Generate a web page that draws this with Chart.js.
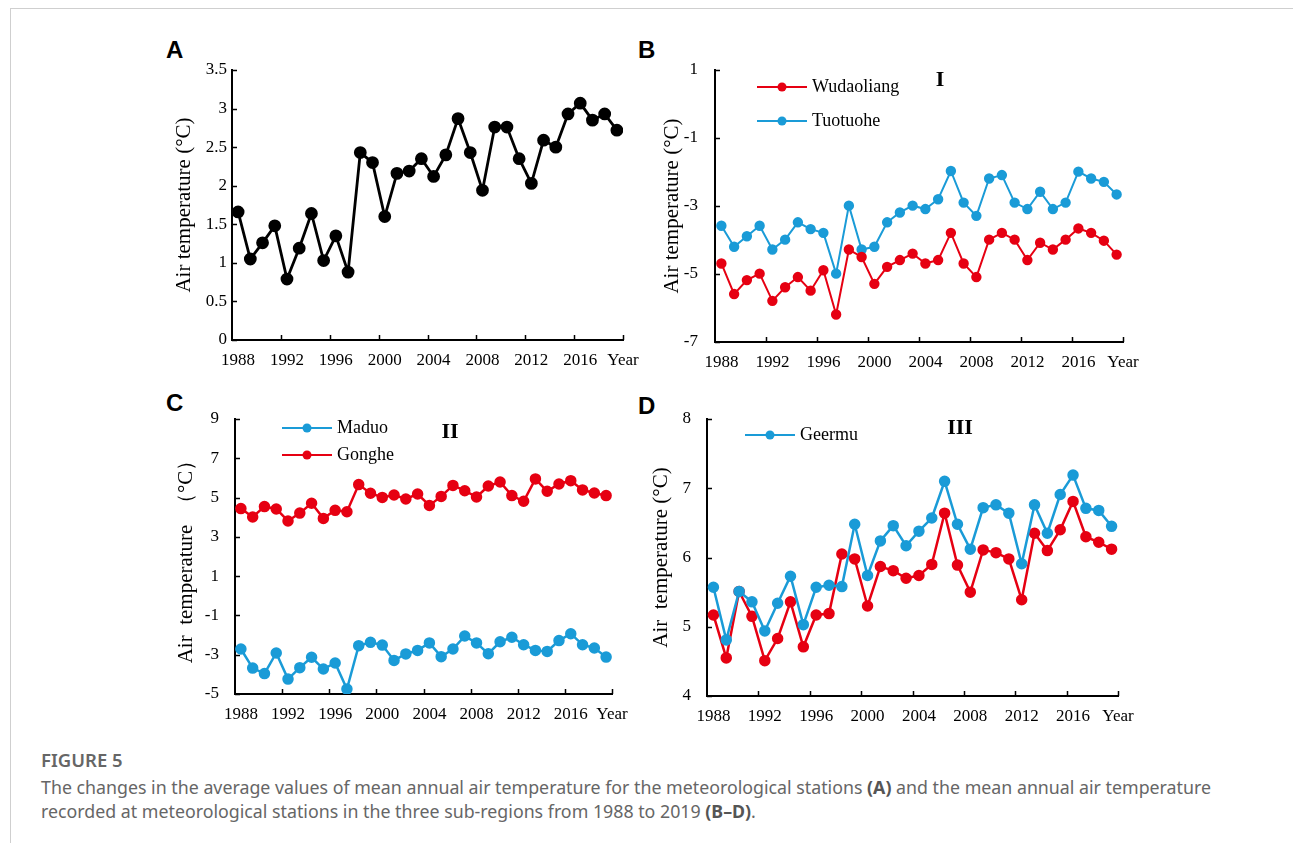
<!DOCTYPE html>
<html>
<head>
<meta charset="utf-8">
<script src="https://cdn.jsdelivr.net/npm/chart.js@4.4.1/dist/chart.umd.min.js"></script>
<style>
body{margin:0;background:#fff;width:1293px;height:843px;overflow:hidden;position:relative;}
.frame{position:absolute;left:10px;top:8px;right:0;bottom:0;border-left:1px solid #cfcfcf;border-top:1px solid #cfcfcf;}
.box{position:absolute;}
.letter{position:absolute;font:bold 24px 'Liberation Sans',Arial,sans-serif;line-height:24px;color:#000;}
.region{position:absolute;font:bold 22px 'Liberation Serif','Times New Roman',serif;line-height:22px;transform:translate(-50%,-50%);color:#000;}
.cap-title{position:absolute;left:41px;top:749px;font:600 18.5px 'Noto Sans',sans-serif;line-height:22px;color:#666;}
.cap-text{position:absolute;left:41px;top:775px;font:17.8px 'Noto Sans',sans-serif;line-height:24px;color:#666;white-space:nowrap;}
.cap-text b{color:#555;}
</style>
</head>
<body>
<div class="frame"></div>

<div class="letter" style="left:166px;top:38px">A</div>
<div class="letter" style="left:638px;top:38px">B</div>
<div class="letter" style="left:166px;top:391px">C</div>
<div class="letter" style="left:638px;top:394px">D</div>

<div class="box" style="left:168px;top:50px;width:480px;height:325px"><canvas id="chartA"></canvas></div>
<div class="box" style="left:656px;top:50px;width:492px;height:327px"><canvas id="chartB"></canvas></div>
<div class="box" style="left:170px;top:399px;width:467px;height:330px"><canvas id="chartC"></canvas></div>
<div class="box" style="left:645px;top:399px;width:498px;height:332px"><canvas id="chartD"></canvas></div>

<div class="region" style="left:940px;top:79px">I</div>
<div class="region" style="left:450px;top:431px">II</div>
<div class="region" style="left:960px;top:427px">III</div>

<div class="cap-title">FIGURE 5</div>
<div class="cap-text">The changes in the average values of mean annual air temperature for the meteorological stations <b>(A)</b> and the mean annual air temperature<br>recorded at meteorological stations in the three sub-regions from 1988 to 2019 <b>(B–D)</b>.</div>

<script>
// data
const years = [1988,1989,1990,1991,1992,1993,1994,1995,1996,1997,1998,1999,2000,2001,2002,2003,
  2004,2005,2006,2007,2008,2009,2010,2011,2012,2013,2014,2015,2016,2017,2018,2019];
const xLabelYears = [1988,1992,1996,2000,2004,2008,2012,2016];
const xTickMarks = [1991.5,1995.5,1999.5,2003.5,2007.5,2011.5,2015.5,2019.5];

const meanAll = [1.66,1.05,1.26,1.48,0.79,1.19,1.64,1.03,1.35,0.88,2.43,2.30,1.60,2.16,2.19,2.35,
  2.12,2.40,2.87,2.43,1.94,2.76,2.76,2.35,2.03,2.59,2.50,2.93,3.07,2.85,2.93,2.72];
const wudaoliang = [-4.69,-5.59,-5.18,-4.99,-5.79,-5.39,-5.09,-5.49,-4.89,-6.19,-4.28,-4.50,-5.29,-4.79,-4.59,-4.40,
  -4.69,-4.59,-3.79,-4.69,-5.09,-3.99,-3.79,-3.99,-4.59,-4.08,-4.28,-3.99,-3.66,-3.79,-4.02,-4.43];
const tuotuohe = [-3.58,-4.20,-3.89,-3.58,-4.28,-3.99,-3.48,-3.68,-3.79,-4.99,-2.99,-4.28,-4.20,-3.48,-3.19,-2.99,
  -3.09,-2.80,-1.97,-2.90,-3.29,-2.19,-2.09,-2.90,-3.09,-2.58,-3.09,-2.90,-1.99,-2.19,-2.29,-2.66];
const maduo = [-2.71,-3.68,-3.96,-2.91,-4.24,-3.66,-3.13,-3.73,-3.42,-4.75,-2.54,-2.37,-2.51,-3.29,-2.96,-2.78,
  -2.40,-3.10,-2.71,-2.05,-2.40,-2.95,-2.34,-2.11,-2.49,-2.78,-2.83,-2.28,-1.93,-2.49,-2.66,-3.12];
const gonghe = [4.44,4.01,4.54,4.42,3.81,4.21,4.71,3.94,4.35,4.28,5.66,5.22,5.01,5.13,4.93,5.18,
  4.60,5.06,5.62,5.35,5.03,5.59,5.79,5.10,4.81,5.95,5.32,5.69,5.86,5.39,5.23,5.10];
const geermu = [5.57,4.81,5.51,5.36,4.94,5.34,5.73,5.03,5.57,5.60,5.58,6.48,5.74,6.24,6.46,6.17,
  6.38,6.57,7.10,6.48,6.12,6.72,6.76,6.64,5.91,6.76,6.35,6.91,7.19,6.71,6.68,6.45];
const regionIIIRed = [5.17,4.55,5.51,5.15,4.51,4.83,5.36,4.71,5.17,5.19,6.05,5.98,5.30,5.87,5.81,5.70,
  5.74,5.90,6.64,5.89,5.50,6.11,6.07,5.98,5.39,6.35,6.10,6.40,6.81,6.30,6.22,6.12];

const RED = '#E60012';
const BLUE = '#1A9BD7';
const SERIF = "'Liberation Serif','Times New Roman',serif";

// small tick marks pointing into the plot, like the Excel original
const innerTicks = {
  id: 'innerTicks',
  beforeDatasetsDraw(chart){
    const {ctx, chartArea} = chart;
    const xs = chart.scales.x, ys = chart.scales.y;
    ctx.save();
    ctx.strokeStyle = '#000';
    ctx.lineWidth = 1.5;
    ctx.beginPath();
    ys.ticks.forEach(t => {
      const py = Math.round(ys.getPixelForValue(t.value)) + 0.5;
      ctx.moveTo(chartArea.left, py); ctx.lineTo(chartArea.left + 5, py);
    });
    xTickMarks.forEach(v => {
      const px = Math.round(xs.getPixelForValue(v)) + 0.5;
      ctx.moveTo(px, chartArea.bottom); ctx.lineTo(px, chartArea.bottom - 5);
    });
    ctx.stroke();
    ctx.restore();
  }
};

// legend drawn inside the plot area
const stationLegend = {
  id: 'stationLegend',
  afterDatasetsDraw(chart, args, opts){
    const {ctx, chartArea} = chart;
    let row = 0;
    ctx.save();
    chart.data.datasets.forEach(ds => {
      if(!ds.label) return;
      const x0 = chartArea.left + opts.dx;
      const y = chartArea.top + opts.dy + row * opts.gap;
      ctx.strokeStyle = ds.borderColor;
      ctx.lineWidth = 2;
      ctx.beginPath(); ctx.moveTo(x0, y); ctx.lineTo(x0 + 50, y); ctx.stroke();
      ctx.fillStyle = ds.borderColor;
      ctx.beginPath(); ctx.arc(x0 + 25, y, 4.5, 0, Math.PI * 2); ctx.fill();
      ctx.fillStyle = '#000';
      ctx.font = '18px ' + SERIF;
      ctx.textBaseline = 'middle';
      ctx.fillText(ds.label, x0 + 55, y);
      row++;
    });
    ctx.restore();
  }
};

function createPanel(id, cfg){
  const ctx = document.getElementById(id).getContext('2d');
  const datasets = cfg.series.map(s => ({
    label: s.label,
    data: years.map((yr, i) => ({x: yr, y: s.values[i]})),
    borderColor: s.color,
    backgroundColor: s.color,
    pointBackgroundColor: s.color,
    pointBorderColor: s.color,
    borderWidth: cfg.lineWidth,
    pointRadius: cfg.pointRadius,
    pointHoverRadius: cfg.pointRadius,
    tension: 0
  }));
  return new Chart(ctx, {
    type: 'line',
    data: { datasets: datasets },
    options: {
      responsive: true,
      maintainAspectRatio: false,
      animation: false,
      events: [],
      layout: { padding: { top: 20, right: 25, left: 0, bottom: 0 } },
      plugins: { legend: {display:false}, tooltip: {enabled:false}, stationLegend: cfg.legend || false },
      scales: {
        x: {
          type: 'linear', min: 1987.5, max: 2019.5,
          grid: { drawOnChartArea:false, drawTicks:false },
          border: { color:'#000', width:2 },
          afterBuildTicks: s => { s.ticks = xLabelYears.concat([2019.5]).map(v => ({value:v})); },
          afterFit: s => { s.height = 35; s.paddingLeft = 0; s.paddingRight = 0; },
          ticks: {
            autoSkip:false, maxRotation:0, padding:10, color:'#000',
            font: { family:SERIF, size:17 },
            callback: v => v === 2019.5 ? 'Year' : String(v)
          }
        },
        y: {
          min: cfg.yMin, max: cfg.yMax,
          grid: { drawOnChartArea:false, drawTicks:false },
          border: { color:'#000', width:2 },
          afterFit: s => { s.width = cfg.yWidth; s.paddingTop = 0; s.paddingBottom = 0; },
          ticks: { stepSize: cfg.yStep, padding: cfg.yPad, color:'#000', font: { family:SERIF, size:17 },
            callback: v => String(v) },
          title: { display:true, text: cfg.yTitle, color:'#000', font: { family:SERIF, size:21 }, padding: {top:4, bottom:4} }
        }
      }
    },
    plugins: [innerTicks, stationLegend]
  });
}

createPanel('chartA', {
  series: [{label:'', values: meanAll, color:'#000'}],
  yMin:0, yMax:3.5, yStep:0.5, yPad:5, yWidth:64,
  yTitle:'Air temperature (°C)', lineWidth:2.8, pointRadius:5
});
createPanel('chartB', {
  series: [{label:'Wudaoliang', values: wudaoliang, color:RED}, {label:'Tuotuohe', values: tuotuohe, color:BLUE}],
  yMin:-7, yMax:1, yStep:2, yPad:17, yWidth:59,
  yTitle:'Air temperature (°C)', lineWidth:2, pointRadius:4.2,
  legend: {dx:42, dy:17, gap:34}
});
createPanel('chartC', {
  series: [{label:'Maduo', values: maduo, color:BLUE}, {label:'Gonghe', values: gonghe, color:RED}],
  yMin:-5, yMax:9, yStep:2, yPad:16, yWidth:65,
  yTitle:'Air  temperature  （°C）', lineWidth:2.5, pointRadius:4.5,
  legend: {dx:47, dy:9, gap:27}
});
createPanel('chartD', {
  series: [{label:'Geermu', values: geermu, color:BLUE}, {label:'', values: regionIIIRed, color:RED}],
  yMin:4, yMax:8, yStep:1, yPad:16, yWidth:62,
  yTitle:'Air  temperature (°C)', lineWidth:2.5, pointRadius:4.5,
  legend: {dx:38, dy:16, gap:30}
});
</script>
</body>
</html>
